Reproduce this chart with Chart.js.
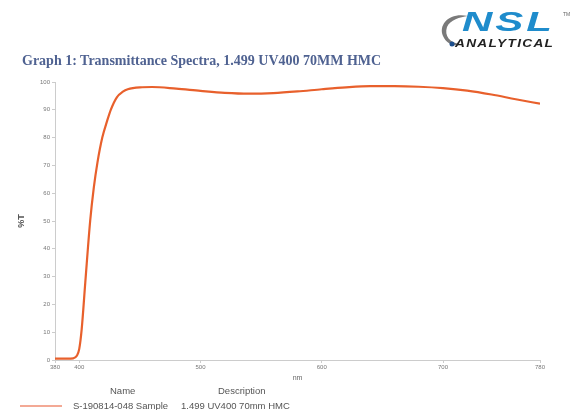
<!DOCTYPE html>
<html>
<head>
<meta charset="utf-8">
<script src="https://cdn.jsdelivr.net/npm/chart.js@4.4.1/dist/chart.umd.min.js"></script>
<style>
  body { margin: 0; background: #fff; }
  #wrap { position: relative; width: 577px; height: 410px; overflow: hidden; }
  #my-chart { position: absolute; left: 0; top: 0; }
  .title { position: absolute; left: 22px; top: 53px; font: bold 14px "Liberation Serif", serif; color: #4f6291; white-space: nowrap; }
  .logo-nsl { position: absolute; left: 462px; top: 6px; font: italic 900 28px "Liberation Sans", Arial, sans-serif; color: #1f8ccc; letter-spacing: 2px; transform: scaleX(1.5); transform-origin: left top; }
  .logo-an { position: absolute; left: 455px; top: 37px; font: italic bold 10.5px "Liberation Sans", Arial, sans-serif; color: #222; letter-spacing: 1px; transform: scaleX(1.3); transform-origin: left top; }
  .logo-tm { position: absolute; left: 563px; top: 11px; font: 5px sans-serif; color: #666; }
  .lg { position: absolute; font: 9.5px "Liberation Sans", Arial, sans-serif; color: #555; white-space: nowrap; }
  .swatch { position: absolute; left: 20px; top: 405px; width: 42px; height: 2px; background: #f3a995; }
</style>
</head>
<body>
<div id="wrap">
  <canvas id="my-chart" width="577" height="410"></canvas>
  <div class="title">Graph 1: Transmittance Spectra, 1.499 UV400 70MM HMC</div>
  <svg style="position:absolute;left:436px;top:10px" width="34" height="42">
    <path d="M32 6 C14 2 2 14 7 26 C11 35 20 37 24 34 C14 33 8 26 11 17 C14 10 24 7 32 6 Z" fill="#7a7a7a"/>
    <circle cx="16" cy="34" r="2.5" fill="#1b4d8c"/>
  </svg>
  <div class="logo-nsl">NSL</div>
  <div class="logo-an">ANALYTICAL</div>
  <div class="logo-tm">TM</div>
  <div class="lg" style="left:110px;top:385px">Name</div>
  <div class="lg" style="left:218px;top:385px">Description</div>
  <div class="swatch"></div>
  <div class="lg" style="left:73px;top:400px">S-190814-048 Sample</div>
  <div class="lg" style="left:181px;top:400px">1.499 UV400 70mm HMC</div>
</div>
<script>
const wavelengths = [380, 390, 395, 398, 400, 402, 405, 409, 412, 415, 419, 423, 426, 431, 436, 440, 450, 460, 480, 500, 520, 540, 560, 580, 600, 620, 640, 660, 680, 700, 720, 740, 760, 780];
const transmittance = [0.5, 0.5, 0.6, 1.5, 4, 11, 28, 50, 62, 71, 80, 86, 90, 94.5, 96.5, 97.4, 98.1, 98.2, 97.6, 96.8, 96.1, 95.8, 96.0, 96.6, 97.4, 98.1, 98.5, 98.5, 98.3, 97.8, 96.9, 95.5, 93.8, 92.2];
const xTicks = [380, 400, 500, 600, 700, 780];
const yTicks = [0, 10, 20, 30, 40, 50, 60, 70, 80, 90, 100];

const points = wavelengths.map((w, i) => ({ x: w, y: transmittance[i] }));
const ctx = document.getElementById("my-chart").getContext("2d");

const chart = new Chart(ctx, {
  type: "line",
  data: {
    datasets: [
      {
        label: "S-190814-048 Sample",
        data: points,
        borderColor: "#e8602c",
        borderWidth: 2.2,
        pointRadius: 0,
        cubicInterpolationMode: "monotone",
      },
    ],
  },
  options: {
    responsive: false,
    animation: false,
    layout: { padding: { top: 82, right: 37, bottom: 28, left: 0 } },
    plugins: { legend: { display: false }, tooltip: { enabled: false } },
    scales: {
      x: {
        type: "linear",
        min: 380,
        max: 780,
        afterBuildTicks: (scale) => { scale.ticks = xTicks.map((v) => ({ value: v })); },
        afterFit: (scale) => { scale.height = 22; },
        grid: { drawOnChartArea: false, tickLength: 3, color: "#ccc" },
        border: { color: "#ccc" },
        ticks: { font: { size: 6 }, color: "#777", padding: 1, maxRotation: 0 },
        title: { display: true, text: "nm", font: { size: 7 }, color: "#666", padding: 0 },
      },
      y: {
        min: 0,
        max: 100,
        afterBuildTicks: (scale) => { scale.ticks = yTicks.map((v) => ({ value: v })); },
        afterFit: (scale) => { scale.width = 55; },
        grid: { drawOnChartArea: false, tickLength: 3, color: "#ccc" },
        border: { color: "#ccc" },
        ticks: { font: { size: 6 }, color: "#777", padding: 2 },
        title: { display: true, text: "%T", font: { size: 9, weight: "bold" }, color: "#555", padding: { top: 16, bottom: 0 } },
      },
    },
  },
});
</script>
</body>
</html>
